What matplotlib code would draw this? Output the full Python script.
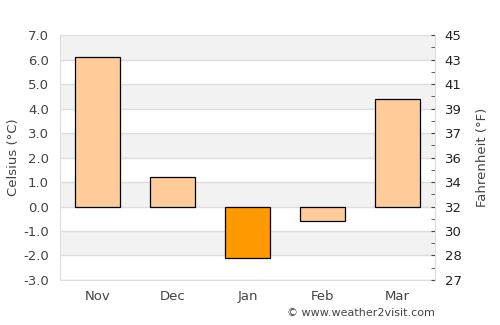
import numpy as np
import matplotlib.pyplot as plt

months = ['Nov', 'Dec', 'Jan', 'Feb', 'Mar']
celsius = [6.1, 1.2, -2.1, -0.6, 4.4]
colors = ['#ffcc99', '#ffcc99', '#ff9900', '#ffcc99', '#ffcc99']
c_ticks = np.arange(-3, 8, 1)

txt = '#444444'
fig = plt.figure(figsize=(5, 3.25), dpi=100)
ax = fig.add_axes([0.12, 0.1385, 0.75, 0.7535])

# alternating background bands
for lo in range(-3, 7):
    if (lo % 2) == 0:
        ax.axhspan(lo, lo + 1, color='#f2f2f2', zorder=0, lw=0)
for t in c_ticks:
    ax.axhline(t, color='#dddddd', lw=1, zorder=1)

x = np.arange(len(months))
ax.bar(x, celsius, width=0.6, color=colors, edgecolor='black', lw=0.9, zorder=3)

ax.set_xlim(-0.5, 4.5)
ax.set_ylim(-3, 7)
ax.set_yticks(c_ticks)
ax.set_yticklabels([f'{t:.1f}' for t in c_ticks], color=txt, fontsize=9.5)
ax.set_xticks(x)
ax.set_xticklabels(months, color=txt, fontsize=9.5)
ax.tick_params(axis='y', length=0, pad=8)
ax.tick_params(axis='x', length=0, pad=7)
ax.set_ylabel('Celsius (°C)', color=txt, fontsize=9.5, labelpad=2)
for s in ['top', 'right']:
    ax.spines[s].set_visible(False)
for s in ['left', 'bottom']:
    ax.spines[s].set_color('#dddddd')

ax2 = ax.twinx()
ax2.set_ylim(-3, 7)
ax2.set_yticks(c_ticks)
ax2.set_yticklabels([f'{round(t * 9 / 5 + 32):d}' for t in c_ticks], color='#222222', fontsize=9.5)
ax2.set_yticks(c_ticks[:-1] + 0.5, minor=True)
ax2.tick_params(axis='y', which='both', direction='in', length=3, color='#444444', pad=7)
ax2.set_ylabel('Fahrenheit (°F)', color=txt, fontsize=9.5, labelpad=10)
for s in ['top', 'left', 'bottom']:
    ax2.spines[s].set_visible(False)
ax2.spines['right'].set_color('#dddddd')

fig.text(0.87, 0.02, '© www.weather2visit.com', ha='right', va='bottom', color=txt, fontsize=8)

fig.savefig('out.png', dpi=100)
